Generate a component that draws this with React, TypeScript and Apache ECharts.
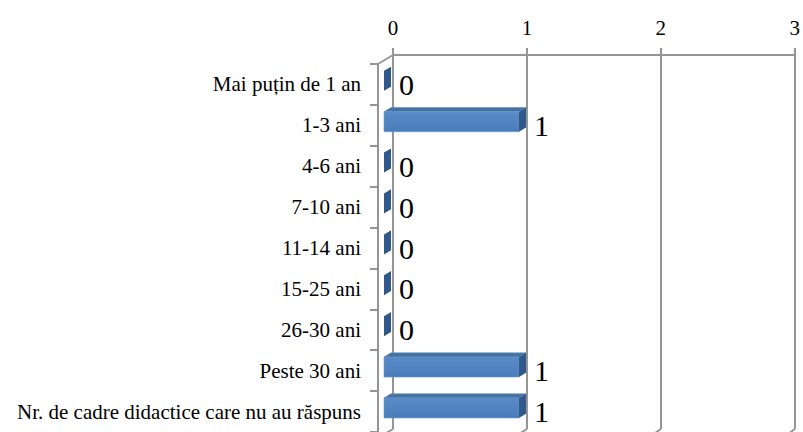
import React, { useEffect, useRef } from "react";
import * as echarts from "echarts";

const categories = [
  "Mai puțin de 1 an",
  "1-3 ani",
  "4-6 ani",
  "7-10 ani",
  "11-14 ani",
  "15-25 ani",
  "26-30 ani",
  "Peste 30 ani",
  "Nr. de cadre didactice care nu au răspuns",
];
const values = [0, 1, 0, 0, 0, 0, 0, 1, 1];
const axisTicks = [0, 1, 2, 3];

const FONT = "Liberation Serif";
const GRAY = "#959595";
const BACK = { left: 393, top: 55, width: 405, height: 374 };
const FRONT = { left: 378, top: 64, width: 405, height: 374 };

export default function App() {
  const ref = useRef<HTMLDivElement>(null);
  useEffect(() => {
    if (!ref.current) return;
    const chart = echarts.init(ref.current, null, { renderer: "svg" });
    const data = values.map((v, i) => [v, i]);
    const option: any = {
      animation: false,
      backgroundColor: "#ffffff",
      textStyle: { fontFamily: FONT },
      grid: [
        { ...BACK, containLabel: false },
        { ...FRONT, containLabel: false },
      ],
      xAxis: [
        {
          gridIndex: 0,
          type: "value",
          position: "top",
          min: axisTicks[0],
          max: axisTicks[axisTicks.length - 1],
          interval: 1,
          axisLine: { show: true, lineStyle: { color: GRAY, width: 2 } },
          axisTick: { show: true, length: 7, lineStyle: { color: GRAY, width: 2 } },
          axisLabel: { fontSize: 21, color: "#000", fontFamily: FONT, margin: 17 },
          splitLine: { show: true, lineStyle: { color: GRAY, width: 2 } },
        },
        {
          gridIndex: 1,
          type: "value",
          min: axisTicks[0],
          max: axisTicks[axisTicks.length - 1],
          show: false,
          splitLine: { show: false },
        },
      ],
      yAxis: [
        {
          gridIndex: 0,
          type: "category",
          data: categories,
          inverse: true,
          show: false,
        },
        {
          gridIndex: 1,
          type: "category",
          data: categories,
          inverse: true,
          axisLine: { show: true, lineStyle: { color: GRAY, width: 2 } },
          axisTick: { show: true, length: 8, lineStyle: { color: GRAY, width: 2 } },
          axisLabel: { fontSize: 21, color: "#000", fontFamily: FONT, margin: 17 },
          splitLine: { show: false },
        },
      ],
      series: [
        {
          type: "custom",
          xAxisIndex: 1,
          yAxisIndex: 1,
          data,
          encode: { x: 0, y: 1 },
          renderItem: (params: any, api: any) => {
            const val = api.value(0);
            const cat = api.value(1);
            const p0 = api.coord([0, cat]);
            const p1 = api.coord([val, cat]);
            const off = 6;
            const dx = 7;
            const dy = -4.2;
            const h = 20;
            const x0 = p0[0] + off;
            const x1 = p1[0] + off;
            const yc = p0[1] - off * 0.6;
            const yT = yc - h / 2;
            const yB = yc + h / 2;
            const children: any[] = [];
            if (x1 - x0 > 0.5) {
              children.push({
                type: "polygon",
                shape: { points: [[x0, yT], [x1, yT], [x1 + dx, yT + dy], [x0 + dx, yT + dy]] },
                style: { fill: "#46729f", stroke: "#5d8cc4", lineWidth: 0.6 },
              });
              children.push({
                type: "rect",
                shape: { x: x0, y: yT, width: x1 - x0, height: h },
                style: {
                  fill: new echarts.graphic.LinearGradient(0, 0, 0, 1, [
                    { offset: 0, color: "#5a8bc8" },
                    { offset: 1, color: "#4a7cbb" },
                  ]),
                  stroke: "#6a98d0",
                  lineWidth: 0.6,
                },
              });
            }
            children.push({
              type: "polygon",
              shape: { points: [[x1, yT], [x1 + dx, yT + dy], [x1 + dx, yB + dy], [x1, yB]] },
              style: { fill: "#30588a" },
            });
            children.push({
              type: "text",
              style: {
                x: x1 + dx + 8,
                y: p0[1],
                text: String(val),
                fontSize: 30,
                fontFamily: FONT,
                fill: "#000",
                align: "left",
                verticalAlign: "middle",
              },
            });
            return { type: "group", children };
          },
        },
      ],
    };
    chart.setOption(option);

    const backBottom = BACK.top + BACK.height;
    const frontBottom = FRONT.top + FRONT.height;
    const lines: any[] = [];
    axisTicks.forEach((t) => {
      const xb = chart.convertToPixel({ xAxisIndex: 0 }, t) as number;
      const xf = chart.convertToPixel({ xAxisIndex: 1 }, t) as number;
      lines.push({
        type: "line",
        shape: { x1: xb, y1: backBottom, x2: xf, y2: frontBottom },
        style: { stroke: GRAY, lineWidth: 2 },
        silent: true,
      });
    });
    const xb0 = chart.convertToPixel({ xAxisIndex: 0 }, axisTicks[0]) as number;
    const xf0 = chart.convertToPixel({ xAxisIndex: 1 }, axisTicks[0]) as number;
    lines.push({
      type: "line",
      shape: { x1: xb0, y1: BACK.top, x2: xf0, y2: FRONT.top },
      style: { stroke: GRAY, lineWidth: 2 },
      silent: true,
    });
    chart.setOption({ graphic: lines });

    return () => chart.dispose();
  }, []);
  return (
    <div
      ref={ref}
      style={{ position: "fixed", left: 0, top: 0, width: 803, height: 432 }}
    />
  );
}
